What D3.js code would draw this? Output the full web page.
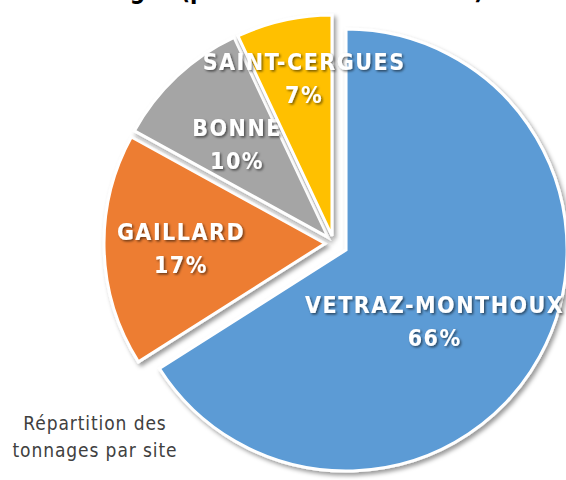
<!DOCTYPE html>
<html>
<head>
<meta charset="utf-8">
<script src="https://cdn.jsdelivr.net/npm/d3@7"></script>
<style>
	body { margin: 0; background: #fff; }
	svg { display: block; }
</style>
</head>
<body>
<script>
// chart data
var sites = ["VETRAZ-MONTHOUX", "GAILLARD", "BONNE", "SAINT-CERGUES"];
var shares = [66, 17, 10, 7];
var sliceColors = ["#5B9BD5", "#ED7D31", "#A5A5A5", "#FFC000"];
var titleText = "Tonnages (par déchèterie en 2019)";
var captionLines = ["Répartition des", "tonnages par site"];

// doc dimensions
var width = 566;
var height = 480;

// pie geometry
var cx = 333.6, cy = 243.2;
var radius = 221;
var explode = [14.2, 8.6, 8, 7.4];
// label placement: fraction of radius + angle nudge (degrees)
var labelRadius = [0.514, 0.652, 0.59, 0.726];
var labelNudge = [9.9, 0, -1.1, 2.6];

var svg = d3.select("body").append("svg")
	.attr("width", width)
	.attr("height", height);

var defs = svg.append("defs");
var sliceShadow = defs.append("filter")
	.attr("id", "sliceShadow")
	.attr("x", "-20%").attr("y", "-20%")
	.attr("width", "140%").attr("height", "140%");
sliceShadow.append("feDropShadow")
	.attr("dx", 2.5).attr("dy", 3)
	.attr("stdDeviation", 2.2)
	.attr("flood-color", "#000")
	.attr("flood-opacity", 0.4);

var textShadow = defs.append("filter")
	.attr("id", "textShadow")
	.attr("x", "-10%").attr("y", "-30%")
	.attr("width", "120%").attr("height", "160%");
textShadow.append("feDropShadow")
	.attr("dx", 1.5).attr("dy", 1.5)
	.attr("stdDeviation", 1)
	.attr("flood-color", "#000")
	.attr("flood-opacity", 0.55);

// title (cut off by top edge, as in the original)
svg.append("text")
	.attr("x", 58)
	.attr("y", -1)
	.attr("font-family", "'DejaVu Sans Condensed', sans-serif")
	.attr("font-weight", "bold")
	.attr("font-size", 24)
	.attr("fill", "#000")
	.text(titleText);

var pie = d3.pie().sort(null).value(function(d) { return d; });
var arcs = pie(shares);

var arc = d3.arc()
	.innerRadius(0)
	.outerRadius(radius);

function midAngle(d) { return (d.startAngle + d.endAngle) / 2; }

var slices = svg.selectAll("g.slice")
	.data(arcs)
	.enter()
	.append("g")
	.attr("class", "slice")
	.attr("transform", function(d, i) {
		var a = midAngle(d);
		var x = cx + explode[i] * Math.sin(a);
		var y = cy - explode[i] * Math.cos(a);
		return "translate(" + x + "," + y + ")";
	});

slices.append("path")
	.attr("d", arc)
	.attr("fill", function(d, i) { return sliceColors[i]; })
	.attr("stroke", "#fff")
	.attr("stroke-width", 3)
	.attr("stroke-linejoin", "miter")
	.attr("filter", "url(#sliceShadow)");

// data labels
var labels = slices.append("text")
	.attr("text-anchor", "middle")
	.attr("font-family", "'DejaVu Sans Condensed', sans-serif")
	.attr("font-weight", "bold")
	.attr("font-size", 23)
	.attr("letter-spacing", 1.5)
	.attr("fill", "#fff")
	.attr("filter", "url(#textShadow)")
	.attr("transform", function(d, i) {
		var a = midAngle(d) + labelNudge[i] * Math.PI / 180;
		var r = labelRadius[i] * radius;
		return "translate(" + (r * Math.sin(a)) + "," + (-r * Math.cos(a)) + ")";
	});

labels.append("tspan")
	.attr("x", 0)
	.attr("y", -8)
	.text(function(d, i) { return sites[i]; });

labels.append("tspan")
	.attr("x", 0)
	.attr("y", 25)
	.text(function(d) { return d.value + "%"; });

// caption bottom left
svg.append("text")
	.attr("text-anchor", "middle")
	.attr("font-family", "'DejaVu Sans Condensed', sans-serif")
	.attr("font-size", 19)
	.attr("letter-spacing", 0.9)
	.attr("fill", "#404040")
	.selectAll("tspan")
	.data(captionLines)
	.enter()
	.append("tspan")
	.attr("x", 95)
	.attr("y", function(d, i) { return 430 + i * 27; })
	.text(function(d) { return d; });
</script>
</body>
</html>
